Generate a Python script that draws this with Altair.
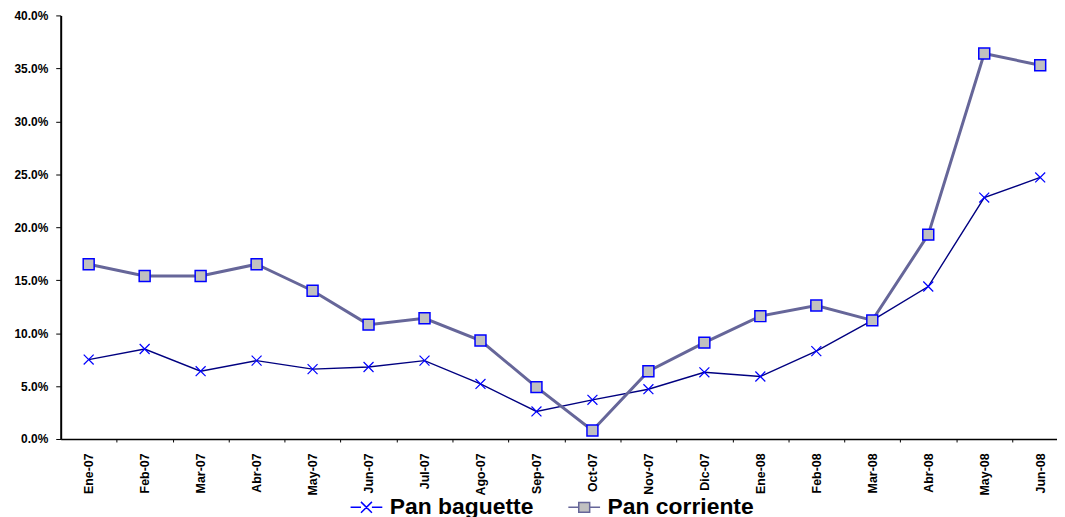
import altair as alt
import pandas as pd

months = ["Ene-07", "Feb-07", "Mar-07", "Abr-07", "May-07", "Jun-07", "Jul-07", "Ago-07",
          "Sep-07", "Oct-07", "Nov-07", "Dic-07", "Ene-08", "Feb-08", "Mar-08", "Abr-08",
          "May-08", "Jun-08"]
pan_baguette = [7.5, 8.5, 6.4, 7.4, 6.6, 6.8, 7.4, 5.2, 2.6, 3.7, 4.7, 6.3, 5.9, 8.3,
                11.2, 14.4, 22.8, 24.7]
pan_corriente = [16.5, 15.4, 15.4, 16.5, 14.0, 10.8, 11.4, 9.3, 4.9, 0.8, 6.4, 9.1, 11.6,
                 12.6, 11.2, 19.3, 36.4, 35.3]
series_names = ["Pan baguette", "Pan corriente"]
y_ticks = [0, 5, 10, 15, 20, 25, 30, 35, 40]

rows = []
for i, m in enumerate(months):
    rows.append({"idx": i, "mes": m, "serie": series_names[0], "valor": pan_baguette[i]})
    rows.append({"idx": i, "mes": m, "serie": series_names[1], "valor": pan_corriente[i]})
df = pd.DataFrame(rows)

FONT = "Liberation Sans"
label_expr = "[" + ",".join(f"'{m}'" for m in months) + "][datum.value]"
STEP = 1002 / 17.8
X_PATH = "M-1,-1L1,1M-1,1L1,-1"
LEG_X = "M-2.9,0L-1,0M1,0L2.9,0M-1,-1L1,1M-1,1L1,-1"
LEG_SQ = "M-2.9,0L-1,0M1,0L2.9,0M-1,-0.9L1,-0.9L1,0.9L-1,0.9Z"

x_enc = alt.X(
    "idx:Q",
    scale=alt.Scale(domain=[-0.5, 17.3], nice=False, zero=False),
    axis=alt.Axis(
        values=list(range(len(months))), labelExpr=label_expr, labelAngle=-90,
        tickOffset=STEP / 2, labelOffset=-STEP / 2, title=None, grid=False,
        tickSize=3, tickColor="black", domainColor="black", domainWidth=1.5,
        labelFont=FONT, labelFontSize=12.5, labelFontWeight="bold", labelColor="black",
        labelPadding=11,
    ),
)
y_enc = alt.Y(
    "valor:Q",
    scale=alt.Scale(domain=[0, 40], nice=False),
    axis=alt.Axis(
        values=y_ticks, labelExpr="format(datum.value/100, '.1%')", title=None, grid=False,
        tickSize=5, tickColor="black", domainColor="black", domainWidth=2,
        labelFont=FONT, labelFontSize=12, labelFontWeight="bold", labelColor="black",
        labelPadding=8,
    ),
)

base = alt.Chart(df).encode(x=x_enc, y=y_enc)

line_b = base.transform_filter(alt.datum.serie == series_names[0]).mark_line(
    color="#000080", strokeWidth=1.4)
pts_b = base.transform_filter(alt.datum.serie == series_names[0]).mark_point(
    shape=X_PATH, size=100, stroke="#0000ff", strokeWidth=1.2, filled=False, opacity=1)
line_c = base.transform_filter(alt.datum.serie == series_names[1]).mark_line(
    color="#666699", strokeWidth=3)
pts_c = base.transform_filter(alt.datum.serie == series_names[1]).mark_point(
    shape="square", size=121, fill="#c0c0c0", stroke="#0000ff", strokeWidth=1.5,
    filled=True, opacity=1)

legend_layer = base.transform_filter("false").mark_point(opacity=1, strokeWidth=1.5).encode(
    shape=alt.Shape("serie:N", title=None,
                    scale=alt.Scale(domain=series_names, range=[LEG_X, LEG_SQ])),
    fill=alt.Fill("serie:N", title=None,
                  scale=alt.Scale(domain=series_names, range=["transparent", "#c0c0c0"])),
    stroke=alt.Stroke("serie:N", title=None,
                      scale=alt.Scale(domain=series_names, range=["#0000ff", "#666699"])),
)

chart = alt.layer(line_b, pts_b, line_c, pts_c, legend_layer).properties(
    width=1002, height=426,
    autosize=alt.AutoSizeParams(type="none"),
    padding={"left": 53, "top": 6, "right": 0, "bottom": 78},
    background="white",
).configure_view(stroke=None).configure_legend(
    orient="none", legendX=296, legendY=483, direction="horizontal",
    symbolSize=121, symbolStrokeWidth=1.5, labelFont=FONT, labelFontSize=23,
    labelFontWeight="bold", labelColor="black", labelOffset=12, columnPadding=31,
    padding=0,
)

chart.save("out.html", embed_options={"renderer": "svg", "actions": False})
